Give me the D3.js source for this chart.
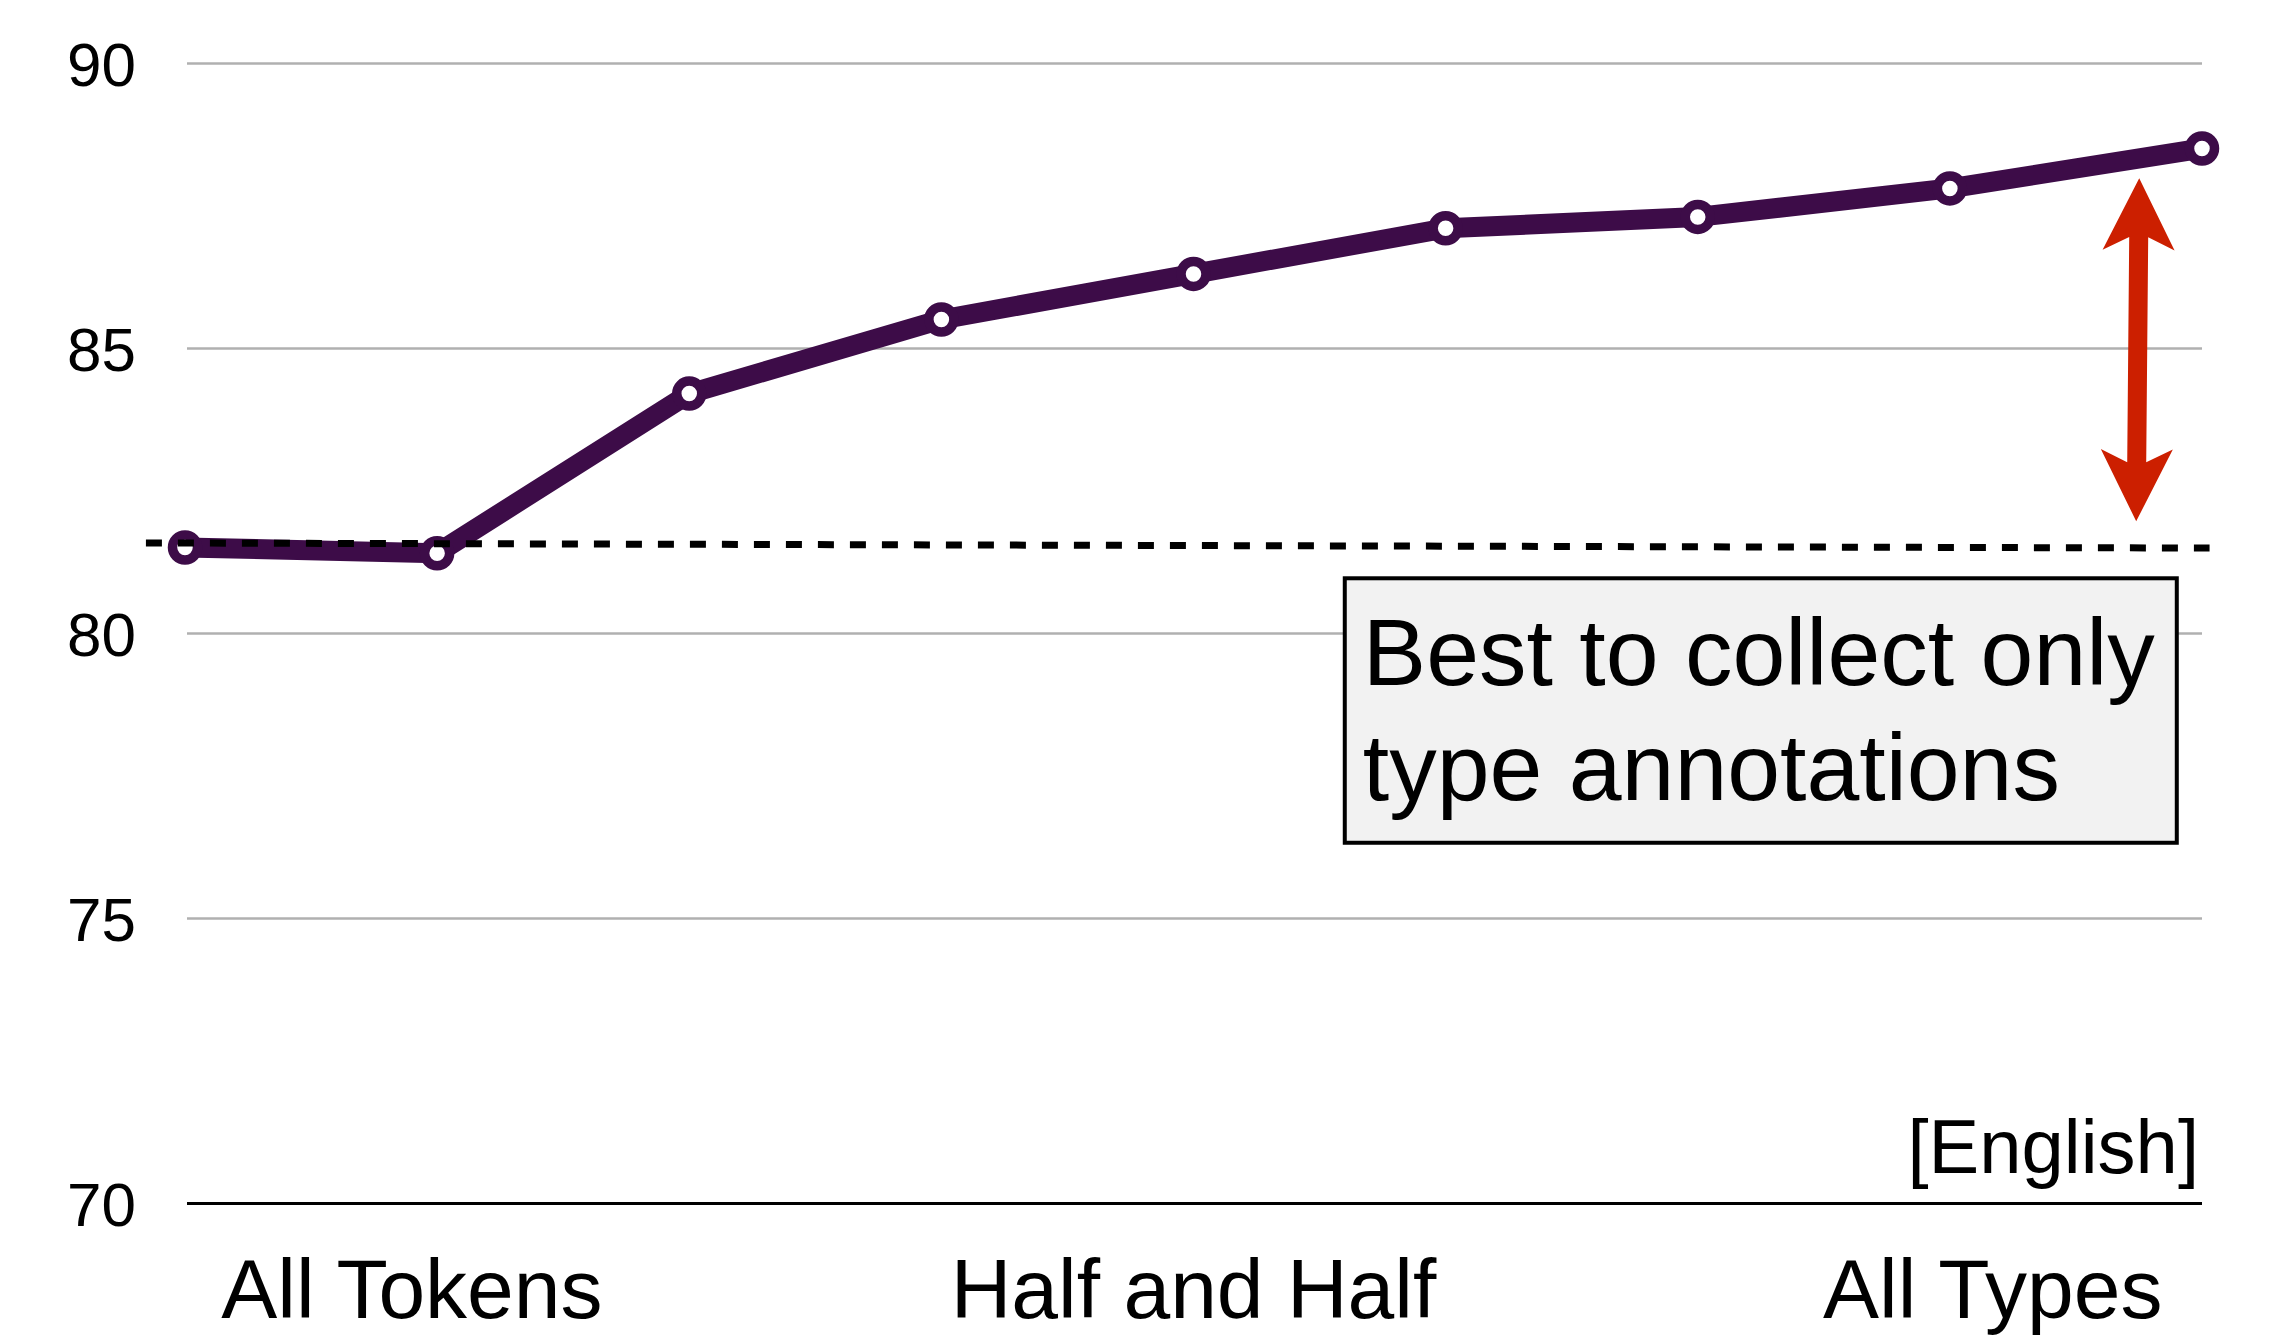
<!DOCTYPE html>
<html>
<head>
<meta charset="utf-8">
<script src="https://cdn.jsdelivr.net/npm/d3@7"></script>
<style>
  html, body { margin: 0; padding: 0; background: #fff; }
  svg { display: block; }
  text { font-family: "Liberation Sans", Helvetica, Arial, sans-serif; fill: #000; }
</style>
</head>
<body>
<svg id="chart" width="2288" height="1337"></svg>
<script>
// Accuracy as the share of type annotations grows from all tokens to all types
const steps = [0, 1, 2, 3, 4, 5, 6, 7, 8];
const accuracy = [81.5, 81.4, 84.2, 85.5, 86.3, 87.1, 87.3, 87.8, 88.5];

const yTicks = [70, 75, 80, 85, 90];
const categoryLabels = ["All Tokens", "Half and Half", "All Types"];
const categoryAt = [0.9, 4, 7.17];

// all-tokens baseline (dashed reference)
const baselineIdx = [-0.155, 8.03];
const baselineVal = [81.58, 81.49];

// gap arrow between baseline and best result
const gapIdx = [7.751, 7.739];
const gapVal = [87.98, 81.96];

const noteLines = ["Best to collect only", "type annotations"];
const noteIdx = [4.6, 7.9];
const noteVal = [80.96, 76.32];
const languageTag = "[English]";

const svg = d3.select("#chart");
const x = d3.scaleLinear().domain([0, 8]).range([185, 2202]);
const y = d3.scaleLinear().domain([70, 90]).range([1203, 63]);

// horizontal grid with tick labels
const yAxis = d3.axisLeft(y)
  .tickValues(yTicks)
  .tickSize(-(x(8) - 187))
  .tickPadding(51)
  .tickFormat(d3.format("d"));

const gAxis = svg.append("g")
  .attr("transform", "translate(187,0)")
  .call(yAxis);
gAxis.select(".domain").remove();
gAxis.selectAll(".tick line")
  .attr("stroke", d => d === 70 ? "#000" : "#b0b0b0")
  .attr("stroke-width", d => d === 70 ? 3 : 2.5);
gAxis.selectAll(".tick text")
  .attr("font-size", 62)
  .attr("dy", "0.36em")
  .style("font-family", "'Liberation Sans', Helvetica, Arial, sans-serif")
  .attr("fill", "#000");

// category labels under the axis
svg.append("g").selectAll("text")
  .data(categoryLabels)
  .join("text")
  .attr("x", (d, i) => x(categoryAt[i]))
  .attr("y", 1318)
  .attr("text-anchor", "middle")
  .attr("font-size", 84)
  .text(d => d);

// language tag
svg.append("text")
  .attr("x", x(8) - 3)
  .attr("y", 1173)
  .attr("text-anchor", "end")
  .attr("font-size", 76)
  .text(languageTag);

// accuracy line
const pts = steps.map((s, i) => ({ s, v: accuracy[i] }));
svg.append("path")
  .datum(pts)
  .attr("fill", "none")
  .attr("stroke", "#3d0c48")
  .attr("stroke-width", 20)
  .attr("stroke-linejoin", "round")
  .attr("d", d3.line().x(d => x(d.s)).y(d => y(d.v)));

svg.append("g").selectAll("circle")
  .data(pts)
  .join("circle")
  .attr("cx", d => x(d.s))
  .attr("cy", d => y(d.v))
  .attr("r", 12.5)
  .attr("fill", "#fff")
  .attr("stroke", "#3d0c48")
  .attr("stroke-width", 9.5);

// dashed baseline drawn over the series
svg.append("line")
  .attr("x1", x(baselineIdx[0])).attr("y1", y(baselineVal[0]))
  .attr("x2", x(baselineIdx[1])).attr("y2", y(baselineVal[1]))
  .attr("stroke", "#000")
  .attr("stroke-width", 7)
  .attr("stroke-dasharray", "16,16");

// double-headed arrow
(function drawArrow() {
  const x1 = x(gapIdx[0]), y1 = y(gapVal[0]);
  const x2 = x(gapIdx[1]), y2 = y(gapVal[1]);
  const len = Math.hypot(x2 - x1, y2 - y1);
  const ux = (x2 - x1) / len, uy = (y2 - y1) / len;
  const nx = -uy, ny = ux;
  const headLen = 72, notch = 59, headHalf = 36, shaftHalf = 9.5;
  const P = (t, w) => [x1 + ux * t + nx * w, y1 + uy * t + ny * w];
  const poly = [
    P(0, 0),
    P(headLen, headHalf),
    P(notch, shaftHalf),
    P(len - notch, shaftHalf),
    P(len - headLen, headHalf),
    P(len, 0),
    P(len - headLen, -headHalf),
    P(len - notch, -shaftHalf),
    P(notch, -shaftHalf),
    P(headLen, -headHalf)
  ];
  svg.append("polygon")
    .attr("points", poly.map(p => p.join(",")).join(" "))
    .attr("fill", "#cc1f00");
})();

// annotation box
const bx0 = x(noteIdx[0]), bx1 = x(noteIdx[1]);
const by0 = y(noteVal[0]), by1 = y(noteVal[1]);
svg.append("rect")
  .attr("x", bx0).attr("y", by0)
  .attr("width", bx1 - bx0).attr("height", by1 - by0)
  .attr("fill", "#f2f2f2")
  .attr("stroke", "#000")
  .attr("stroke-width", 4);

svg.append("g").selectAll("text")
  .data(noteLines)
  .join("text")
  .attr("x", bx0 + 18)
  .attr("y", (d, i) => by0 + 107 + i * 115)
  .attr("font-size", 95)
  .text(d => d);
</script>
</body>
</html>
